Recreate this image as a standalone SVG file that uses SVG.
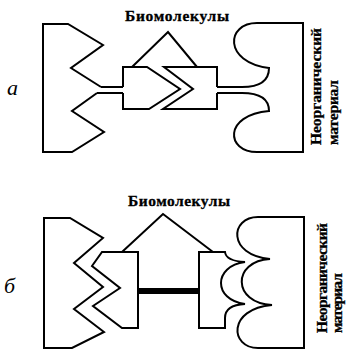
<svg xmlns="http://www.w3.org/2000/svg" width="347" height="351" viewBox="0 0 347 351">
<style>
.o{fill:#fff;stroke:#000;stroke-width:2;stroke-linejoin:miter}
.l{fill:none;stroke:#000;stroke-width:2}
.t{font-family:"Liberation Serif",serif;font-weight:bold;font-size:15.5px;fill:#000;stroke:#000;stroke-width:0.3}
.i{font-family:"Liberation Serif",serif;font-style:italic;font-size:22px;fill:#000}
</style>
<rect width="347" height="351" fill="#fff"/>
<!-- Part a -->
<g id="label-a"><text class="i" x="7" y="95">а</text></g>
<g id="title-a"><text class="t" x="177" y="21" text-anchor="middle" textLength="104" lengthAdjust="spacing">Биомолекулы</text></g>
<g id="a-left-shape"><path class="o" d="M101,87 L71,68 L103,45 L68,24 L43,24 L43,152 L72,152 L104,132 L72,111 L97,93"/></g>
<g id="a-bio1"><path class="o" d="M123,87 V67 H147 L180,89 L149,109 H123 V93"/></g>
<g id="a-bio2"><path class="o" d="M217,87 V67 H164 L193,89 L163,109 H217 V93"/></g>
<g id="a-inorganic"><path class="o" d="M242,87 Q269,87 269,68 C223,62 226,23 257,23 L303,23 L303,152 L257,152 C226,152 223,115 269,111 Q269,93 242,93"/></g>
<g id="a-inorganic-label">
<text class="t" transform="translate(321,145) rotate(-90)" textLength="117" lengthAdjust="spacing">Неорганический</text>
<text class="t" transform="translate(338,145) rotate(-90)" textLength="65" lengthAdjust="spacing">материал</text>
</g>
<!-- Part b -->
<g id="label-b"><text class="i" x="4" y="293">б</text></g>
<g id="title-b"><text class="t" x="179" y="206" text-anchor="middle" textLength="102" lengthAdjust="spacing">Биомолекулы</text></g>
<g id="b-left-shape"><path class="o" d="M44,218 L70,218 L103,238 L74,263 L103,287 L74,309 L104,332 L72,348 L44,348 Z"/></g>
<g id="b-bio1"><path class="o" d="M102,252 L138,252 L138,328 L122,328 L93,306 L120,288 L92,266 Z"/></g>
<g id="b-bio2"><path class="o" d="M199,252 H225 Q226,261 245,262 C213,266 213,300 245,304 Q225,305 225,318 V328 H199 Z"/></g>
<g id="b-inorganic"><path class="o" d="M304,217 H258 C230,217 227,255 270,259 C232,261 232,303 272,305 C227,309 230,348 258,348 H304 Z"/></g>
<g id="b-inorganic-label">
<text class="t" transform="translate(327,333) rotate(-90)" textLength="110" lengthAdjust="spacing">Неорганический</text>
<text class="t" transform="translate(342,333) rotate(-90)" textLength="60" lengthAdjust="spacing">материал</text>
</g>
<g id="connectors">
<path class="l" d="M101,87 H123 M97,93 H123"/>
<path class="l" d="M217,87 H242 M217,93 H242"/>
<path class="l" d="M132,67 L168,32 L197,67"/>
<path class="l" d="M122,252 L163,214 L213,252"/>
<rect x="138" y="288" width="61" height="6" fill="#000"/>
</g>
</svg>
